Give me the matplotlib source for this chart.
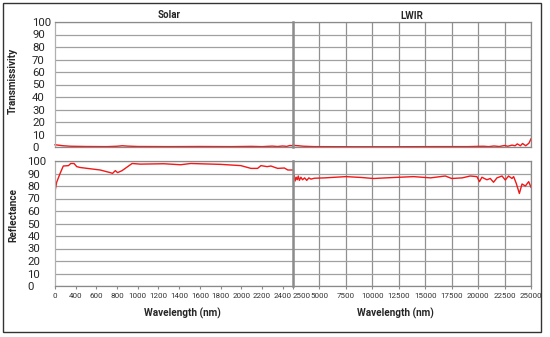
import matplotlib
matplotlib.use("Agg")
import matplotlib.pyplot as plt
from matplotlib.patches import Rectangle

plt.rcParams['font.family'] = ['Roboto', 'DejaVu Sans']

# ---------------- data ----------------
solar_T_nm = [200, 230, 280, 350, 500, 700, 800, 850, 900, 1000, 1300, 1600, 1900,
              2100, 2200, 2300, 2350, 2400, 2440, 2470, 2500]
solar_T = [1.8, 1.5, 1.0, 0.6, 0.4, 0.3, 0.6, 1.0, 0.7, 0.4, 0.3, 0.4, 0.3,
           0.5, 0.3, 0.7, 0.4, 0.8, 0.5, 1.2, 1.0]

lwir_T_nm = [2500, 2700, 3000, 3500, 4500, 8000, 12000, 16000, 19000, 20500, 21000,
             21500, 22000, 22500, 22800, 23200, 23500, 23700, 24000, 24200, 24500,
             24800, 25000]
lwir_T = [1.5, 1.2, 1.0, 0.6, 0.3, 0.2, 0.2, 0.3, 0.3, 0.6, 0.3,
          0.8, 0.4, 1.2, 0.6, 1.5, 1.0, 2.5, 1.0, 2.8, 1.0,
          3.0, 6.5]

solar_R_nm = [200, 216, 249, 280, 330, 352, 384, 410, 443, 637, 734, 756, 783, 805,
              848, 945, 1025, 1251, 1414, 1511, 1802, 1996, 2093, 2158, 2190, 2250,
              2287, 2320, 2352, 2417, 2450, 2498]
solar_R = [75.5, 83, 90, 96, 96.3, 98, 98, 95.5, 94.8, 92.8, 90.7, 90.1, 92.3, 90.7,
           92.3, 98, 97.5, 97.8, 97, 98, 97.3, 96.3, 94.1, 94.1, 96.3, 95.5,
           96, 95.0, 94.1, 94.4, 92.8, 92.8]

lwir_R_nm = [2500, 2550, 2600, 2700, 2800, 2900, 3000, 3100, 3250, 3400, 3600, 3800,
             4000, 4200, 4500, 5500, 7500, 9000, 10100, 12000, 13900, 15500, 16900,
             17500, 18500, 19250, 19886, 20130, 20360, 20830, 21150, 21460, 21780,
             22260, 22570, 22880, 23200, 23360, 23610, 23900, 24150, 24470, 24780, 25000]
lwir_R = [88, 85, 89, 84, 87, 85, 88, 84.5, 87, 85, 86.5, 84.5,
          86.5, 85.5, 86.2, 86.5, 87.5, 86.8, 86, 86.8, 87.5, 86.5, 88,
          86, 86.5, 88, 87.5, 83.5, 87, 85, 86, 83, 86.5,
          88, 84.8, 88, 86, 87.5, 82, 74, 81.6, 80, 83.5, 79]

solar_ticks = [200, 400, 600, 800, 1000, 1200, 1400, 1600, 1800, 2000, 2200, 2400]
solar_tick_labels = ["0", "400", "600", "800", "1000", "1200", "1400", "1600",
                     "1800", "2000", "2200", "2400"]
lwir_ticks = [2500, 5000, 7500, 10000, 12500, 15000, 17500, 20000, 22500, 25000]
y_ticks = [0, 10, 20, 30, 40, 50, 60, 70, 80, 90, 100]

# ---------------- layout ----------------
W, H = 550, 337
fig = plt.figure(figsize=(W / 100, H / 100), dpi=100)

def rect(l, r, t, b):
    return [l / W, 1 - b / H, (r - l) / W, (b - t) / H]

ax_sT = fig.add_axes(rect(55, 293, 22, 147))
ax_lT = fig.add_axes(rect(293, 531, 22, 147))
ax_sR = fig.add_axes(rect(55, 293, 161, 286))
ax_lR = fig.add_axes(rect(293, 531, 161, 286))

red = '#f01818'
grid_c = '#a0a0a0'
spine_c = '#8a8a8a'
txt_c = '#262626'

for ax in (ax_sT, ax_lT, ax_sR, ax_lR):
    ax.set_ylim(0, 100)
    ax.set_yticks(y_ticks)
    ax.grid(axis='y', color=grid_c, lw=0.9)
    ax.set_axisbelow(True)
    for s in ax.spines.values():
        s.set_color(spine_c)
        s.set_linewidth(0.9)
    ax.tick_params(axis='y', length=0)
    ax.tick_params(axis='x', length=2, color=spine_c, labelsize=5.8,
                   labelcolor='#333333', pad=3)

for ax in (ax_sT, ax_sR):
    ax.set_xlim(200, 2500)
    ax.set_xticks(solar_ticks)
    ax.set_xticklabels(solar_tick_labels)
    ax.spines['right'].set_visible(False)
    ax.spines['left'].set_color('#b0b0b0')
for ax in (ax_lT, ax_lR):
    ax.set_xlim(2500, 25000)
    ax.set_xticks(lwir_ticks)
    ax.grid(axis='x', color='#909090', lw=0.9)
    ax.spines['left'].set_linewidth(1.8)
    ax.spines['left'].set_color('#8c8c8c')
    ax.set_yticklabels([])
    ax.tick_params(axis='y', left=False)

for ax in (ax_sT, ax_lT):
    ax.tick_params(axis='x', labelbottom=False, length=0)

ax_sT.tick_params(axis='y', labelsize=8.2, labelcolor=txt_c, pad=16.5)
ax_sR.tick_params(axis='y', labelsize=8.2, labelcolor=txt_c, pad=20)
for ax in (ax_sT, ax_sR):
    for lab in ax.get_yticklabels():
        lab.set_horizontalalignment('left')

# lines
ax_sT.plot(solar_T_nm, solar_T, color=red, lw=1.0, clip_on=False)
ax_lT.plot(lwir_T_nm, lwir_T, color=red, lw=1.0, clip_on=False)
ax_sR.plot(solar_R_nm, solar_R, color=red, lw=1.0)
ax_lR.plot(lwir_R_nm, lwir_R, color=red, lw=1.0)

# first LWIR label shifted right like the reference
first = ax_lR.get_xticklabels()[0]
first.set_horizontalalignment('left')

# titles and labels
ax_sT.set_title("Solar", fontsize=7, fontweight='bold', pad=3, color=txt_c, x=0.48)
ax_lT.set_title("LWIR", fontsize=7, fontweight='bold', pad=2, color=txt_c)
ax_sT.set_ylabel("Transmissivity", fontsize=7.2, fontweight='bold', color=txt_c)
ax_sT.yaxis.set_label_coords(-0.155, 0.53)
ax_sR.set_ylabel("Reflectance", fontsize=7.2, fontweight='bold', color=txt_c)
ax_sR.yaxis.set_label_coords(-0.155, 0.57)
ax_sR.set_xlabel("Wavelength (nm)", fontsize=7.2, fontweight='bold', color=txt_c)
ax_sR.xaxis.set_label_coords(0.534, -0.175)
ax_lR.set_xlabel("Wavelength (nm)", fontsize=7.2, fontweight='bold', color=txt_c)
ax_lR.xaxis.set_label_coords(0.43, -0.175)

# outer frame
fig.patches.append(Rectangle((3 / W, 1 - 332 / H), 538 / W, 329 / H,
                             transform=fig.transFigure, fill=False,
                             edgecolor='#333333', lw=1.0))

fig.savefig("out.png", dpi=100, facecolor='white')
